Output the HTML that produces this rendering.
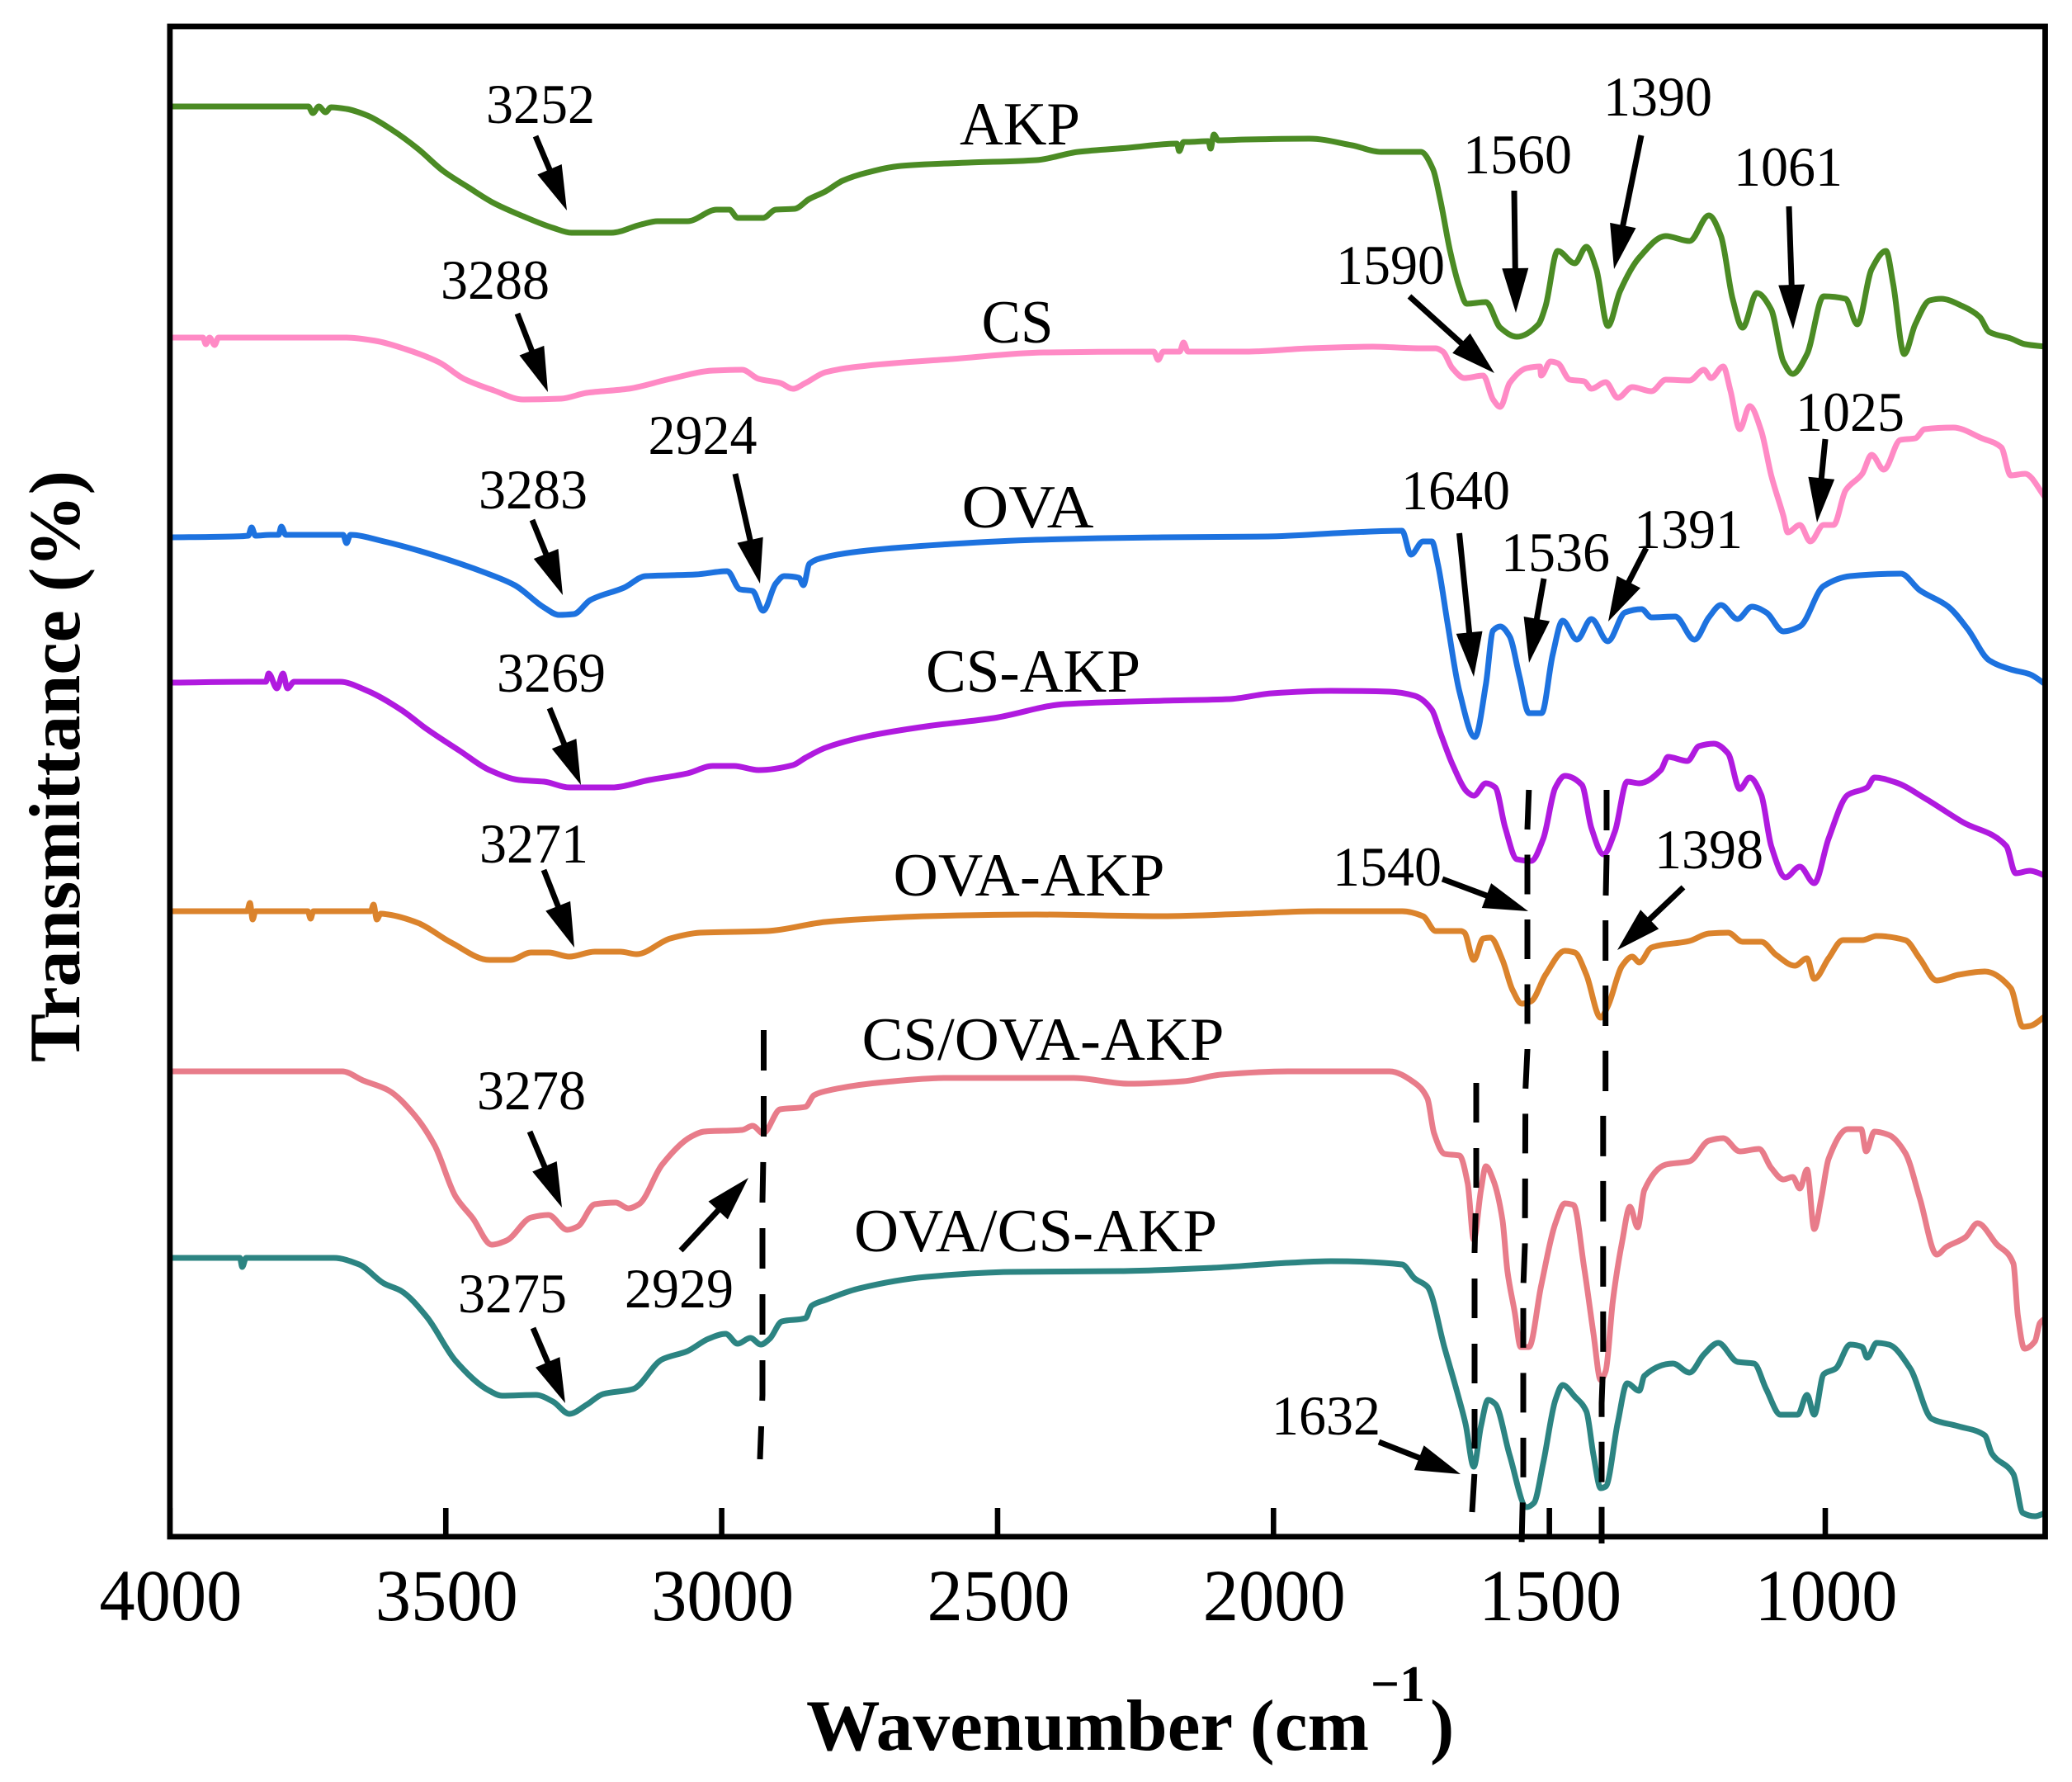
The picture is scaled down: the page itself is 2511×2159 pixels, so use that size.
<!DOCTYPE html>
<html lang="en">
<head>
<meta charset="utf-8">
<title>FTIR spectra</title>
<style>
html,body{margin:0;padding:0;background:#fff;}
svg{display:block;}
text{font-family:"Liberation Serif",serif;fill:#000;}
</style>
</head>
<body>
<svg id="chart" xmlns="http://www.w3.org/2000/svg" width="2511" height="2159" viewBox="0 0 2511 2159">
<rect x="0" y="0" width="2511" height="2159" fill="#fff"/>
<g id="series-layer"></g>
<g id="guide-layer" fill="none" stroke="#000" stroke-width="7">
<polyline stroke-dasharray="49 31" points="925.5,1248 925.5,1376 924,1456 924,1690 921,1768"/>
<polyline stroke-dasharray="48 31" points="1789,1312 1789,1438 1787,1517 1787,1783 1784,1832"/>
<polyline stroke-dasharray="48 30.5" points="1852.8,957 1851,1005 1851,1272 1848.7,1320 1848,1508 1846,1560 1846,1790 1844,1871"/>
<polyline stroke-dasharray="49 30" points="1947,957 1947,1038 1945.7,1100 1945.7,1322 1942.8,1350 1942.8,1650 1941,1700 1941,1870"/>
</g>
<g id="annotation-layer"></g>
<g id="axis-layer"></g>
<text transform="translate(96,1287) rotate(-90)" font-size="88" font-weight="bold" textLength="717" lengthAdjust="spacingAndGlyphs">Transmittance (%)</text>
<text x="977" y="2120" font-size="88" font-weight="bold" textLength="682" lengthAdjust="spacingAndGlyphs">Wavenumber (cm</text>
<text x="1661" y="2061" font-size="62" font-weight="bold" textLength="66" lengthAdjust="spacingAndGlyphs">−1</text>
<text x="1733" y="2120" font-size="88" font-weight="bold">)</text>
</svg>
<script>
const NS = 'http://www.w3.org/2000/svg';

const xTickValues = [4000, 3500, 3000, 2500, 2000, 1500, 1000];
const xTickLabels = ['4000', '3500', '3000', '2500', '2000', '1500', '1000'];
const seriesNames = ['AKP', 'CS', 'OVA', 'CS-AKP', 'OVA-AKP', 'CS/OVA-AKP', 'OVA/CS-AKP'];

const akpSpectrum = [[3997,1733],[3749,1733],[3741,1725],[3730,1733],[3718,1726],[3708,1732],[3680,1730],[3642,1722],[3596,1704],[3551,1682],[3505,1655],[3459,1635],[3413,1616],[3360,1600],[3306,1586],[3272,1580],[3200,1580],[3146,1590],[3116,1594],[3062,1594],[3009,1608],[2986,1608],[2971,1598],[2925,1598],[2902,1608],[2868,1609],[2841,1621],[2812,1630],[2781,1643],[2736,1653],[2675,1661],[2553,1665],[2430,1668],[2354,1678],[2263,1683],[2175,1688],[2171,1679],[2163,1690],[2156,1690],[2118,1691],[2114,1682],[2108,1699],[2100,1692],[2049,1693],[1935,1694],[1858,1686],[1805,1678],[1733,1678],[1711,1657],[1698,1621],[1680,1558],[1663,1514],[1650,1494],[1615,1496],[1589,1465],[1559,1454],[1520,1469],[1507,1491],[1485,1558],[1454,1543],[1433,1563],[1415,1536],[1394,1467],[1372,1509],[1337,1550],[1289,1576],[1246,1570],[1211,1601],[1189,1576],[1168,1500],[1150,1465],[1124,1507],[1098,1487],[1076,1424],[1059,1409],[1033,1433],[1003,1503],[963,1500],[942,1469],[916,1536],[890,1558],[877,1518],[857,1433],[837,1469],[811,1498],[790,1500],[751,1491],[720,1478],[703,1460],[664,1452],[638,1445],[601,1442]];

const csSpectrum = [[3997,1453],[3940,1453],[3935,1445],[3928,1453],[3919,1444],[3912,1453],[3680,1453],[3627,1449],[3573,1439],[3512,1423],[3467,1403],[3413,1389],[3360,1378],[3291,1379],[3245,1386],[3169,1391],[3093,1403],[3016,1413],[2963,1414],[2933,1403],[2894,1398],[2871,1391],[2848,1398],[2812,1411],[2736,1419],[2583,1427],[2415,1435],[2217,1436],[2209,1426],[2200,1436],[2170,1436],[2163,1447],[2155,1436],[2049,1436],[1935,1440],[1820,1442],[1733,1440],[1706,1440],[1693,1436],[1676,1416],[1654,1404],[1620,1407],[1602,1378],[1589,1369],[1572,1398],[1541,1416],[1517,1418],[1515,1407],[1498,1424],[1485,1422],[1463,1402],[1437,1400],[1424,1391],[1398,1399],[1376,1380],[1350,1393],[1315,1388],[1289,1402],[1246,1401],[1220,1414],[1207,1404],[1185,1418],[1172,1389],[1155,1342],[1137,1370],[1116,1340],[1098,1286],[1076,1237],[1068,1217],[1046,1226],[1027,1206],[1003,1226],[985,1226],[963,1268],[933,1288],[916,1311],[894,1293],[864,1329],[837,1331],[820,1342],[768,1344],[716,1331],[681,1320],[664,1286],[638,1288],[601,1259]];

const ovaSpectrum = [[3997,1211],[3886,1212],[3858,1213],[3852,1223],[3845,1213],[3818,1214],[3803,1214],[3798,1224],[3790,1214],[3686,1214],[3680,1204],[3673,1214],[3612,1206],[3520,1189],[3428,1168],[3375,1153],[3322,1126],[3295,1117],[3268,1118],[3238,1135],[3177,1150],[3138,1164],[3093,1165],[3047,1166],[2990,1170],[2967,1148],[2944,1146],[2925,1122],[2902,1155],[2887,1164],[2860,1162],[2852,1153],[2841,1179],[2812,1187],[2736,1195],[2583,1203],[2430,1208],[2202,1211],[2011,1212],[1858,1217],[1767,1219],[1751,1190],[1729,1206],[1713,1206],[1702,1178],[1685,1109],[1663,1024],[1635,969],[1615,1033],[1602,1098],[1589,1103],[1572,1091],[1554,1042],[1537,998],[1514,998],[1494,1069],[1476,1110],[1450,1087],[1424,1112],[1394,1085],[1363,1120],[1333,1124],[1315,1114],[1272,1115],[1237,1087],[1211,1114],[1189,1129],[1159,1112],[1133,1127],[1107,1120],[1076,1097],[1046,1103],[1003,1152],[955,1164],[863,1167],[829,1147],[777,1127],[742,1100],[703,1062],[664,1051],[629,1045],[601,1033]];

const csAkpSpectrum = [[3997,1035],[3856,1036],[3826,1036],[3821,1046],[3806,1028],[3795,1046],[3787,1028],[3775,1036],[3692,1036],[3642,1025],[3581,1002],[3535,979],[3474,952],[3421,929],[3367,917],[3322,915],[3276,908],[3200,908],[3131,917],[3062,925],[3016,934],[2978,934],[2933,929],[2871,935],[2848,944],[2812,956],[2736,970],[2629,982],[2507,992],[2377,1009],[2202,1013],[2080,1015],[2003,1022],[1896,1025],[1790,1024],[1744,1019],[1713,1002],[1698,975],[1675,935],[1648,902],[1637,898],[1615,913],[1598,908],[1580,859],[1559,821],[1533,819],[1511,846],[1489,908],[1472,922],[1441,911],[1424,859],[1402,827],[1381,855],[1359,915],[1337,913],[1298,929],[1285,945],[1250,940],[1229,958],[1202,961],[1176,949],[1155,906],[1137,920],[1116,899],[1098,837],[1072,799],[1046,812],[1020,792],[994,846],[959,899],[924,908],[911,920],[872,914],[820,895],[751,866],[672,837],[655,804],[629,807],[601,801]];

const ovaAkpSpectrum = [[3997,758],[3860,758],[3855,768],[3850,748],[3845,758],[3750,758],[3745,749],[3740,758],[3650,758],[3636,758],[3631,766],[3625,748],[3618,755],[3604,754],[3551,744],[3490,720],[3421,699],[3383,699],[3345,708],[3314,708],[3276,703],[3230,709],[3184,709],[3154,706],[3093,725],[3039,732],[2917,734],[2812,745],[2728,749],[2629,752],[2430,754],[2202,752],[2049,755],[1919,758],[1767,758],[1729,752],[1706,734],[1660,734],[1654,732],[1637,699],[1620,725],[1607,726],[1585,699],[1567,663],[1550,646],[1533,649],[1507,681],[1472,710],[1454,708],[1433,681],[1407,629],[1394,643],[1368,692],[1350,703],[1337,696],[1315,714],[1246,722],[1211,731],[1176,732],[1150,721],[1116,721],[1089,705],[1055,692],[1033,701],[1020,676],[994,701],[968,723],[933,723],[907,728],[855,723],[829,701],[798,674],[759,681],[711,685],[664,665],[642,618],[629,619],[601,631]];

const csOvaAkpSpectrum = [[3997,564],[3688,564],[3650,553],[3604,541],[3558,512],[3520,474],[3482,412],[3451,386],[3417,354],[3390,359],[3345,387],[3314,390],[3280,372],[3261,376],[3230,403],[3192,405],[3169,398],[3150,403],[3108,451],[3055,485],[3032,491],[2963,493],[2944,498],[2925,489],[2894,518],[2848,521],[2833,535],[2812,540],[2705,551],[2591,556],[2362,556],[2263,549],[2163,552],[2095,560],[1973,564],[1790,564],[1744,550],[1721,531],[1709,489],[1690,464],[1663,462],[1648,428],[1637,360],[1624,420],[1615,449],[1602,433],[1585,384],[1576,322],[1563,273],[1552,230],[1537,230],[1515,304],[1489,380],[1472,404],[1456,402],[1437,326],[1420,246],[1407,190],[1398,201],[1385,286],[1368,358],[1354,400],[1340,375],[1328,420],[1289,451],[1246,455],[1211,480],[1185,483],[1155,467],[1120,470],[1098,447],[1076,433],[1059,436],[1046,422],[1033,445],[1020,373],[1007,411],[994,458],[959,494],[935,494],[926,467],[911,491],[885,487],[855,465],[829,411],[798,342],[781,351],[746,363],[724,380],[690,355],[659,331],[651,268],[639,228],[620,237],[611,259],[601,265]];

const ovaCsAkpSpectrum = [[3997,338],[3873,338],[3869,327],[3862,338],[3703,338],[3657,330],[3612,307],[3581,298],[3535,267],[3482,213],[3421,177],[3398,171],[3337,172],[3306,164],[3276,149],[3245,160],[3215,173],[3161,179],[3108,215],[3062,225],[3024,240],[2993,246],[2971,234],[2948,241],[2929,233],[2913,240],[2891,261],[2848,265],[2837,280],[2812,287],[2751,301],[2629,315],[2476,321],[2278,322],[2110,326],[1973,332],[1896,334],[1767,330],[1744,313],[1721,303],[1690,229],[1667,175],[1652,137],[1637,85],[1624,134],[1611,166],[1598,161],[1572,99],[1541,36],[1528,41],[1511,90],[1489,166],[1476,184],[1454,170],[1433,152],[1420,99],[1407,59],[1398,61],[1376,139],[1359,186],[1337,177],[1328,195],[1276,210],[1246,199],[1220,221],[1194,235],[1159,212],[1129,210],[1107,179],[1081,148],[1050,148],[1033,172],[1020,148],[1003,197],[981,204],[955,233],[933,230],[924,217],[907,235],[885,233],[846,204],[807,143],[759,134],[711,123],[698,101],[659,76],[642,29],[620,25],[601,29]];

const allSpectra = [akpSpectrum, csSpectrum, ovaSpectrum, csAkpSpectrum, ovaAkpSpectrum, csOvaAkpSpectrum, ovaCsAkpSpectrum];
const seriesColors = ['#4b8b24', '#ff8ac5', '#1d72df', '#b01adf', '#db832c', '#e87c8a', '#2c8482'];

function xScale(wavenumber) {
  return 205.9 + (4000 - wavenumber) * 0.6687;
}
function yScale(value) {
  return 1862 - value;
}

function monotonePath(points) {
  const pts = points.map(function (p) { return [xScale(p[0]), yScale(p[1])]; });
  const n = pts.length;
  const h = [], d = [], m = [];
  for (let i = 0; i < n - 1; i++) {
    h[i] = Math.max(pts[i + 1][0] - pts[i][0], 0.01);
    d[i] = (pts[i + 1][1] - pts[i][1]) / h[i];
  }
  m[0] = d[0];
  m[n - 1] = d[n - 2];
  for (let i = 1; i < n - 1; i++) {
    if (d[i - 1] * d[i] <= 0) {
      m[i] = 0;
    } else {
      const w1 = 2 * h[i] + h[i - 1], w2 = h[i] + 2 * h[i - 1];
      m[i] = (w1 + w2) / (w1 / d[i - 1] + w2 / d[i]);
    }
  }
  let path = 'M' + pts[0][0].toFixed(1) + ',' + pts[0][1].toFixed(1);
  for (let i = 0; i < n - 1; i++) {
    const c = h[i] / 3;
    path += 'C' + (pts[i][0] + c).toFixed(1) + ',' + (pts[i][1] + m[i] * c).toFixed(1) + ' ' +
      (pts[i + 1][0] - c).toFixed(1) + ',' + (pts[i + 1][1] - m[i + 1] * c).toFixed(1) + ' ' +
      pts[i + 1][0].toFixed(1) + ',' + pts[i + 1][1].toFixed(1);
  }
  return path;
}

const seriesLayer = document.getElementById('series-layer');
allSpectra.forEach(function (points, i) {
  const line = document.createElementNS(NS, 'path');
  
  
  line.setAttribute('fill', 'none');
  line.setAttribute('stroke', seriesColors[i]);
  line.setAttribute('stroke-width', '7');
  line.setAttribute('stroke-linejoin', 'round');
  line.setAttribute('d', monotonePath(points));
  seriesLayer.appendChild(line);
});

const annotationLayer = document.getElementById('annotation-layer');

function addText(label, x, y, size, width, kind) {
  const t = document.createElementNS(NS, 'text');
  
  
  t.setAttribute('x', x);
  t.setAttribute('y', y);
  t.setAttribute('font-size', size);
  t.setAttribute('text-anchor', 'middle');
  t.setAttribute('textLength', width);
  t.setAttribute('lengthAdjust', 'spacingAndGlyphs');
  t.textContent = label;
  annotationLayer.appendChild(t);
}

function addArrow(label, x1, y1, x2, y2) {
  const dx = x2 - x1, dy = y2 - y1;
  const len = Math.sqrt(dx * dx + dy * dy);
  const ux = dx / len, uy = dy / len;
  const bx = x2 - ux * 54, by = y2 - uy * 54;
  const g = document.createElementNS(NS, 'g');
  
  
  const shaft = document.createElementNS(NS, 'line');
  shaft.setAttribute('x1', x1);
  shaft.setAttribute('y1', y1);
  shaft.setAttribute('x2', bx + ux * 4);
  shaft.setAttribute('y2', by + uy * 4);
  shaft.setAttribute('stroke', '#000');
  shaft.setAttribute('stroke-width', '7');
  g.appendChild(shaft);
  const head = document.createElementNS(NS, 'polygon');
  head.setAttribute('points', [
    x2 + ',' + y2,
    (bx - uy * 16).toFixed(1) + ',' + (by + ux * 16).toFixed(1),
    (bx + uy * 16).toFixed(1) + ',' + (by - ux * 16).toFixed(1)
  ].join(' '));
  head.setAttribute('fill', '#000');
  g.appendChild(head);
  annotationLayer.appendChild(g);
}

function peak(label, lx, ly, x1, y1, x2, y2) {
  addText(label, lx, ly, 68, 132, 'peak-label');
  addArrow(label, x1, y1, x2, y2);
}

peak('3252', 655, 149, 649, 165, 687, 255);
peak('3288', 600, 362, 627, 380, 664, 475);
peak('2924', 851.5, 550, 891, 574, 921, 707);
peak('3283', 646, 616, 645, 630, 682, 721);
peak('1590', 1685, 344, 1708, 359, 1811, 452);
peak('1560', 1839, 210, 1835, 231, 1837, 379);
peak('1390', 2009, 140, 1989, 164, 1956, 326);
peak('1061', 2167, 225, 2168, 250, 2173, 399);
peak('1025', 2242, 522, 2212, 532, 2202, 633);
peak('1640', 1764, 617, 1768.5, 646, 1786, 820);
peak('1536', 1885, 692, 1871, 701, 1853, 803);
peak('1391', 2046, 664, 1995, 664, 1949, 753);
peak('3269', 668, 838, 666, 858, 704, 951);
peak('3271', 647, 1045, 659, 1054, 696, 1148);
peak('1540', 1681, 1073, 1748, 1065, 1852, 1104);
peak('1398', 2071, 1052, 2040, 1075, 1960, 1151);
peak('3278', 644, 1344, 642, 1371, 681, 1463);
peak('3275', 621, 1590, 646, 1609, 685, 1700);
peak('2929', 823, 1584, 825, 1515, 907, 1427);
peak('1632', 1607, 1738, 1671, 1747, 1770, 1786);

addText('AKP', 1236, 175, 74, 146, 'series-label');
addText('CS', 1233, 415, 74, 87, 'series-label');
addText('OVA', 1245.5, 639, 74, 160, 'series-label');
addText('CS-AKP', 1252, 838, 74, 260, 'series-label');
addText('OVA-AKP', 1247, 1085, 74, 329, 'series-label');
addText('CS/OVA-AKP', 1264, 1284, 74, 439, 'series-label');
addText('OVA/CS-AKP', 1255, 1516, 74, 440, 'series-label');

const axisLayer = document.getElementById('axis-layer');
const frame = document.createElementNS(NS, 'rect');


frame.setAttribute('x', '205.9');
frame.setAttribute('y', '32');
frame.setAttribute('width', '2272.6');
frame.setAttribute('height', '1829.8');
frame.setAttribute('fill', 'none');
frame.setAttribute('stroke', '#000');
frame.setAttribute('stroke-width', '6.8');
axisLayer.appendChild(frame);

xTickValues.forEach(function (value, i) {
  const tick = document.createElementNS(NS, 'line');
  
  
  tick.setAttribute('x1', xScale(value));
  tick.setAttribute('x2', xScale(value));
  tick.setAttribute('y1', '1827');
  tick.setAttribute('y2', '1862');
  tick.setAttribute('stroke', '#000');
  tick.setAttribute('stroke-width', '6.6');
  axisLayer.appendChild(tick);
  const label = document.createElementNS(NS, 'text');
  
  
  label.setAttribute('x', xScale(value) + 1);
  label.setAttribute('y', '1963');
  label.setAttribute('font-size', '89');
  label.setAttribute('text-anchor', 'middle');
  label.setAttribute('textLength', '173');
  label.setAttribute('lengthAdjust', 'spacingAndGlyphs');
  label.textContent = xTickLabels[i];
  axisLayer.appendChild(label);
});
</script>
</body>
</html>
